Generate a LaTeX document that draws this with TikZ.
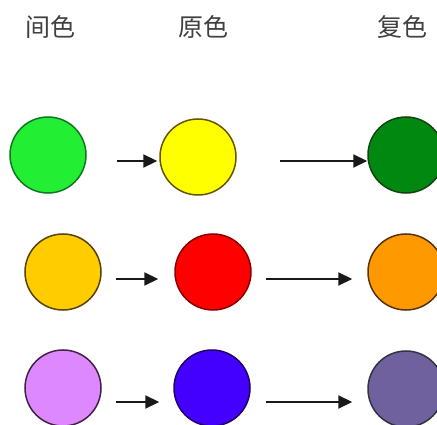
\documentclass[tikz,border=0pt]{standalone}
\usepackage{fontspec}
\newfontfamily\cjk{Noto Sans CJK SC}
\usetikzlibrary{arrows.meta}
\definecolor{cG}{HTML}{22EE33}
\definecolor{cGb}{HTML}{117722}
\definecolor{cY}{HTML}{FFFF00}
\definecolor{cYb}{HTML}{665500}
\definecolor{cDG}{HTML}{008811}
\definecolor{cDGb}{HTML}{114411}
\definecolor{cOY}{HTML}{FFCC00}
\definecolor{cOYb}{HTML}{554400}
\definecolor{cR}{HTML}{FF0000}
\definecolor{cRb}{HTML}{880000}
\definecolor{cO}{HTML}{FF9900}
\definecolor{cOb}{HTML}{553311}
\definecolor{cLP}{HTML}{DD88FF}
\definecolor{cLPb}{HTML}{442244}
\definecolor{cB}{HTML}{4400FF}
\definecolor{cBb}{HTML}{220066}
\definecolor{cGP}{HTML}{6E619E}
\definecolor{cGPb}{HTML}{333344}
\tikzset{
  ball/.style={circle,minimum size=76pt,inner sep=0pt,line width=1.5pt},
  title/.style={font=\cjk\fontsize{25pt}{25pt}\selectfont,text=black!75,inner sep=0pt},
  arr/.style={-{Triangle[length=14pt,width=13pt]},line width=2.2pt,black!90}
}
\begin{document}
\begin{tikzpicture}[x=1pt,y=-1pt]
\useasboundingbox (0,0) rectangle (437,425);
\fill[white] (0,0) rectangle (437,425);
\node[title] (t1) at (50,27) {间色};
\node[title] (t2) at (203,27) {原色};
\node[title] (t3) at (402,27) {复色};
% row 1
\node[ball,fill=cG,draw=cGb] (a1) at (48,155) {};
\node[ball,fill=cY,draw=cYb] (b1) at (198,157) {};
\node[ball,fill=cDG,draw=cDGb] (c1) at (406,155) {};
% row 2
\node[ball,fill=cOY,draw=cOYb] (a2) at (63,272) {};
\node[ball,fill=cR,draw=cRb] (b2) at (213,272) {};
\node[ball,fill=cO,draw=cOb] (c2) at (406,272) {};
% row 3
\node[ball,fill=cLP,draw=cLPb] (a3) at (63,388) {};
\node[ball,fill=cB,draw=cBb] (b3) at (212,388) {};
\node[ball,fill=cGP,draw=cGPb] (c3) at (406,389) {};
% arrows
\draw[arr,shorten <=30pt,shorten >=2pt] ([yshift=-6pt]a1.east) -- ([yshift=-4pt]b1.west);
\draw[arr,shorten <=43pt,shorten >=0pt] ([yshift=-4pt]b1.east) -- ([yshift=-6pt]c1.west);
\draw[arr,shorten <=14pt,shorten >=16pt] ([yshift=-7pt]a2.east) -- ([yshift=-7pt]b2.west);
\draw[arr,shorten <=14pt,shorten >=15pt] ([yshift=-7pt]b2.east) -- ([yshift=-7pt]c2.west);
\draw[arr,shorten <=14pt,shorten >=14pt] ([yshift=-14pt]a3.east) -- ([yshift=-14pt]b3.west);
\draw[arr,shorten <=15pt,shorten >=15pt] ([yshift=-14pt]b3.east) -- ([yshift=-13pt]c3.west);
\end{tikzpicture}
\end{document}
